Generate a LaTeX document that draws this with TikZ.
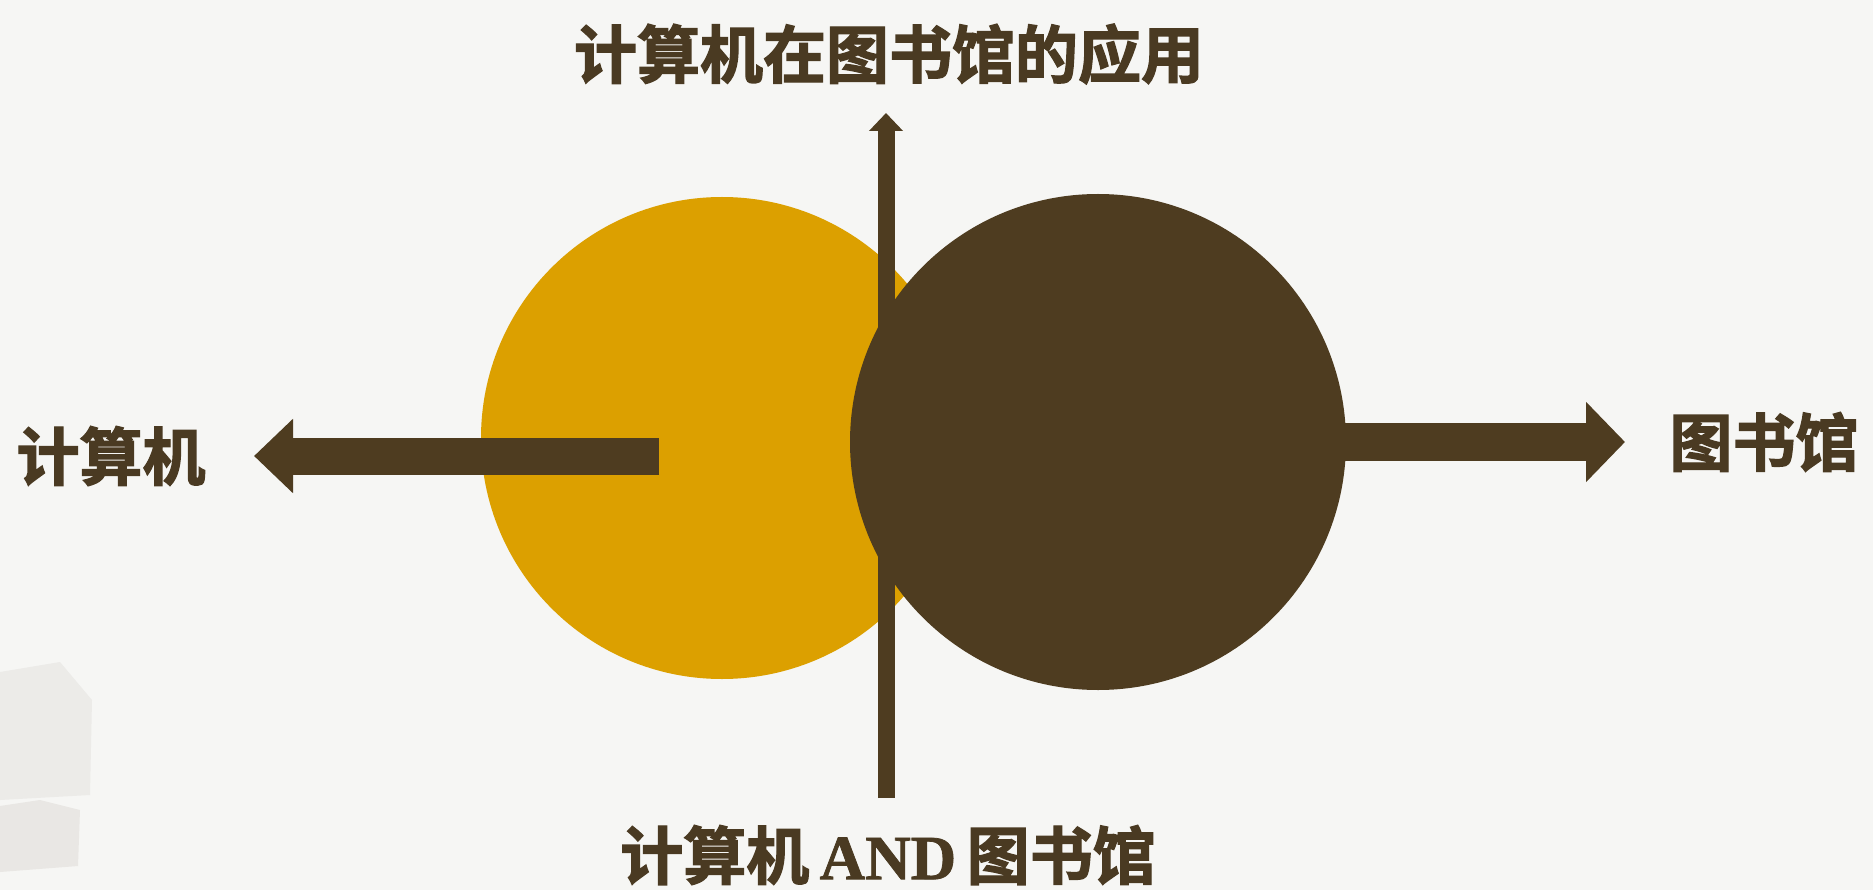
\documentclass[tikz,border=0pt]{standalone}
\usepackage{fontspec}
\setmainfont{Liberation Serif}
\newfontfamily\cjk{Noto Sans CJK SC Bold}[FakeBold=2]
\newfontfamily\andfont{Liberation Serif Bold}[FakeBold=1.2]
\usetikzlibrary{arrows.meta}
\definecolor{bg}{HTML}{F6F6F4}
\definecolor{gold}{HTML}{DCA000}
\definecolor{dbrown}{HTML}{4E3C20}
\definecolor{txt}{HTML}{4A3A22}
\definecolor{bookA}{HTML}{ECEBE8}
\definecolor{bookB}{HTML}{E9E7E4}
\tikzset{
  lbl/.style={text=txt, font=\cjk\fontsize{63}{70}\selectfont, inner sep=0pt},
  disc/.style={circle, inner sep=0pt, draw=none},
  fatarrow/.style={draw=dbrown, line width=#1}
}
\begin{document}
\begin{tikzpicture}[x=1pt,y=-1pt]
\fill[bg] (0,0) rectangle (1873,890);
\useasboundingbox (0,0) rectangle (1873,890);
% faint books in the corner
\fill[bookA] (0,672) -- (60,662) -- (92,700) -- (90,795) -- (0,800) -- cycle;
\fill[bookB] (0,806) -- (40,800) -- (80,810) -- (78,866) -- (0,872) -- cycle;
% circles
\node[disc, fill=gold, minimum size=482pt] (yc) at (722,438) {};
\coordinate (lstart) at (659,456);
\node[lbl] (lcomp) at (111,456) {计算机};
\coordinate (ltip) at (254,456);
\draw[fatarrow=37pt, -{Triangle[length=39pt,width=72pt]}] (lstart) -- (ltip);
\node[disc, fill=dbrown, minimum size=496pt] (bc) at (1098,442) {};
\node[lbl] (rlib) at (1764,442) {图书馆};
\coordinate (rtip) at (1625,442);
\draw[fatarrow=38pt, -{Triangle[length=39pt,width=78pt]}] (bc.center) -- (rtip);
% vertical arrow
\node[lbl] (title) at (889,54) {计算机在图书馆的应用};
\node[lbl] (bottom) at (888,855) {计算机\,{\andfont AND}\,图书馆};
\coordinate (vbot) at (886,798);
\coordinate (vtop) at (886,113);
\draw[fatarrow=17pt, -{Triangle[length=18pt,width=33pt]}] (vbot) -- (vtop);
\end{tikzpicture}
\end{document}
